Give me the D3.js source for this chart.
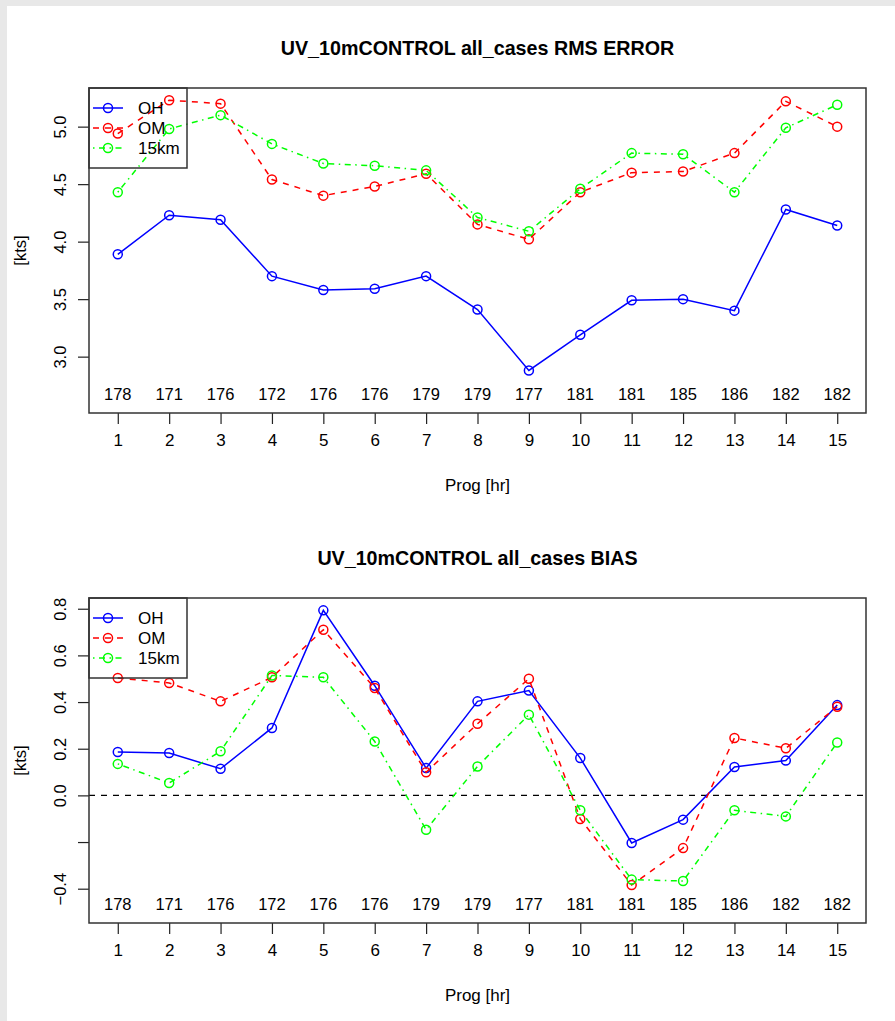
<!DOCTYPE html>
<html>
<head>
<meta charset="utf-8">
<script src="https://cdn.jsdelivr.net/npm/d3@7"></script>
<style>
  body { margin: 0; background: #e8e8e8; }
  svg { display: block; }
  text { font-family: "Liberation Sans", Arial, sans-serif; fill: #000; }
</style>
</head>
<body>
<script>
var progHours = [1, 2, 3, 4, 5, 6, 7, 8, 9, 10, 11, 12, 13, 14, 15];
var caseCounts = [178, 171, 176, 172, 176, 176, 179, 179, 177, 181, 181, 185, 186, 182, 182];
var seriesNames = ["OH", "OM", "15km"];

// RMS error [kts]
var rmsOH = [3.89, 4.23, 4.19, 3.70, 3.58, 3.59, 3.70, 3.41, 2.88, 3.19, 3.49, 3.50, 3.40, 4.28, 4.14];
var rmsOM = [4.94, 5.23, 5.20, 4.54, 4.40, 4.48, 4.59, 4.15, 4.02, 4.43, 4.60, 4.61, 4.77, 5.22, 5.00];
var rms15 = [4.43, 4.98, 5.10, 4.85, 4.68, 4.66, 4.62, 4.21, 4.09, 4.46, 4.77, 4.76, 4.43, 4.99, 5.19];

// bias [kts]
var biasOH = [0.186, 0.182, 0.114, 0.289, 0.793, 0.470, 0.117, 0.403, 0.449, 0.160, -0.204, -0.104, 0.122, 0.149, 0.387];
var biasOM = [0.503, 0.482, 0.403, 0.506, 0.710, 0.460, 0.099, 0.307, 0.500, -0.101, -0.384, -0.226, 0.246, 0.202, 0.380];
var bias15 = [0.135, 0.053, 0.189, 0.514, 0.506, 0.231, -0.147, 0.124, 0.346, -0.064, -0.361, -0.367, -0.064, -0.090, 0.227];

var rmsTicks = [3.0, 3.5, 4.0, 4.5, 5.0];
var biasTicks = [-0.4, -0.2, 0.0, 0.2, 0.4, 0.6, 0.8];
var biasTickLabels = ["\u22120.4", "", "0.0", "0.2", "0.4", "0.6", "0.8"];

var colors = ["#0000ff", "#ff0000", "#00ff00"];
var dashes = [null, "6,6", "1.5,4.5,6,4.5"];

var width = 895, height = 1021;
var svg = d3.select("body").append("svg")
	.attr("width", width)
	.attr("height", height);

svg.append("rect")
	.attr("x", 7).attr("y", 6)
	.attr("width", width - 7).attr("height", height - 6)
	.attr("fill", "#fff");

function panel(opts) {
	var top = opts.top, bottom = opts.bottom, left = 89, right = 866;

	var x = d3.scaleLinear().domain([0.44, 15.56]).range([left, right]);
	var y = d3.scaleLinear().domain(opts.ydomain).range([bottom, top]);

	var g = svg.append("g");

	// title
	g.append("text")
		.attr("x", (left + right) / 2)
		.attr("y", top - 33)
		.attr("text-anchor", "middle")
		.style("font-size", "19.7px")
		.style("font-weight", "bold")
		.text(opts.title);

	// zero line
	if (opts.zero) {
		g.append("line")
			.attr("x1", left).attr("x2", right)
			.attr("y1", y(0)).attr("y2", y(0))
			.attr("stroke", "#000")
			.attr("stroke-width", 1.2)
			.attr("stroke-dasharray", "6,6");
	}

	// series
	var line = d3.line()
		.x(function (d, i) { return x(progHours[i]) })
		.y(function (d) { return y(d) });

	opts.series.forEach(function (s, k) {
		g.append("path")
			.datum(s)
			.attr("d", line)
			.attr("fill", "none")
			.attr("stroke", colors[k])
			.attr("stroke-width", 1.5)
			.attr("stroke-dasharray", dashes[k]);
		g.selectAll(".pt" + k)
			.data(s)
			.enter().append("circle")
			.attr("class", "pt" + k)
			.attr("cx", function (d, i) { return x(progHours[i]) })
			.attr("cy", function (d) { return y(d) })
			.attr("r", 4.5)
			.attr("fill", "none")
			.attr("stroke", colors[k])
			.attr("stroke-width", 1.5);
	});

	// case counts along the bottom
	g.selectAll(".cnt")
		.data(caseCounts)
		.enter().append("text")
		.attr("x", function (d, i) { return x(progHours[i]) })
		.attr("y", bottom - 13)
		.attr("text-anchor", "middle")
		.style("font-size", "16.5px")
		.text(function (d) { return d });

	// x axis
	var xAxis = d3.axisBottom(x).tickValues(progHours).tickSize(11).tickPadding(10)
		.tickFormat(d3.format("d"));
	var xa = g.append("g")
		.attr("transform", "translate(0," + bottom + ")")
		.call(xAxis);
	xa.select(".domain").remove();
	xa.selectAll("line").attr("stroke", "#222").attr("stroke-width", 1.2);
	xa.selectAll("text").style("font-size", "17px")
		.style("font-family", '"Liberation Sans", Arial, sans-serif');

	g.append("text")
		.attr("x", (left + right) / 2)
		.attr("y", bottom + 78)
		.attr("text-anchor", "middle")
		.style("font-size", "17px")
		.text("Prog [hr]");

	// y axis
	var yAxis = d3.axisLeft(y).tickValues(opts.yticks).tickSize(11).tickPadding(0)
		.tickFormat(function (d, i) { return opts.ylabels[i] });
	var ya = g.append("g")
		.attr("transform", "translate(" + left + ",0)")
		.call(yAxis);
	ya.select(".domain").remove();
	ya.selectAll("line").attr("stroke", "#222").attr("stroke-width", 1.2);
	ya.selectAll("text")
		.style("font-size", "16.5px")
		.style("font-family", '"Liberation Sans", Arial, sans-serif')
		.attr("x", 0).attr("dy", null)
		.attr("text-anchor", "middle")
		.attr("transform", "translate(-23,0) rotate(-90)")
		.attr("y", 0);

	g.append("text")
		.attr("transform", "translate(26," + ((top + bottom) / 2) + ") rotate(-90)")
		.attr("text-anchor", "middle")
		.style("font-size", "16.5px")
		.text("[kts]");

	// frame
	g.append("rect")
		.attr("x", left).attr("y", top)
		.attr("width", right - left).attr("height", bottom - top)
		.attr("fill", "none")
		.attr("stroke", "#333")
		.attr("stroke-width", 1.5);

	// legend
	var lg = g.append("g");
	lg.append("rect")
		.attr("x", left).attr("y", top)
		.attr("width", 98).attr("height", 80)
		.attr("fill", "none")
		.attr("stroke", "#333")
		.attr("stroke-width", 1.5);
	seriesNames.forEach(function (name, k) {
		var ly = top + 20 + k * 20;
		lg.append("line")
			.attr("x1", left + 4).attr("x2", left + 34)
			.attr("y1", ly).attr("y2", ly)
			.attr("stroke", colors[k])
			.attr("stroke-width", 1.5)
			.attr("stroke-dasharray", dashes[k]);
		lg.append("circle")
			.attr("cx", left + 19).attr("cy", ly).attr("r", 4.5)
			.attr("fill", "none")
			.attr("stroke", colors[k])
			.attr("stroke-width", 1.5);
		lg.append("text")
			.attr("x", left + 49).attr("y", ly)
			.attr("dy", "0.36em")
			.style("font-size", "17px")
			.text(name);
	});
}

panel({
	top: 88, bottom: 413,
	ydomain: [2.51, 5.336],
	yticks: rmsTicks,
	ylabels: rmsTicks.map(d3.format(".1f")),
	title: "UV_10mCONTROL all_cases RMS ERROR",
	series: [rmsOH, rmsOM, rms15],
	zero: false
});

panel({
	top: 598, bottom: 923,
	ydomain: [-0.547, 0.846],
	yticks: biasTicks,
	ylabels: biasTickLabels,
	title: "UV_10mCONTROL all_cases BIAS",
	series: [biasOH, biasOM, bias15],
	zero: true
});
</script>
</body>
</html>
